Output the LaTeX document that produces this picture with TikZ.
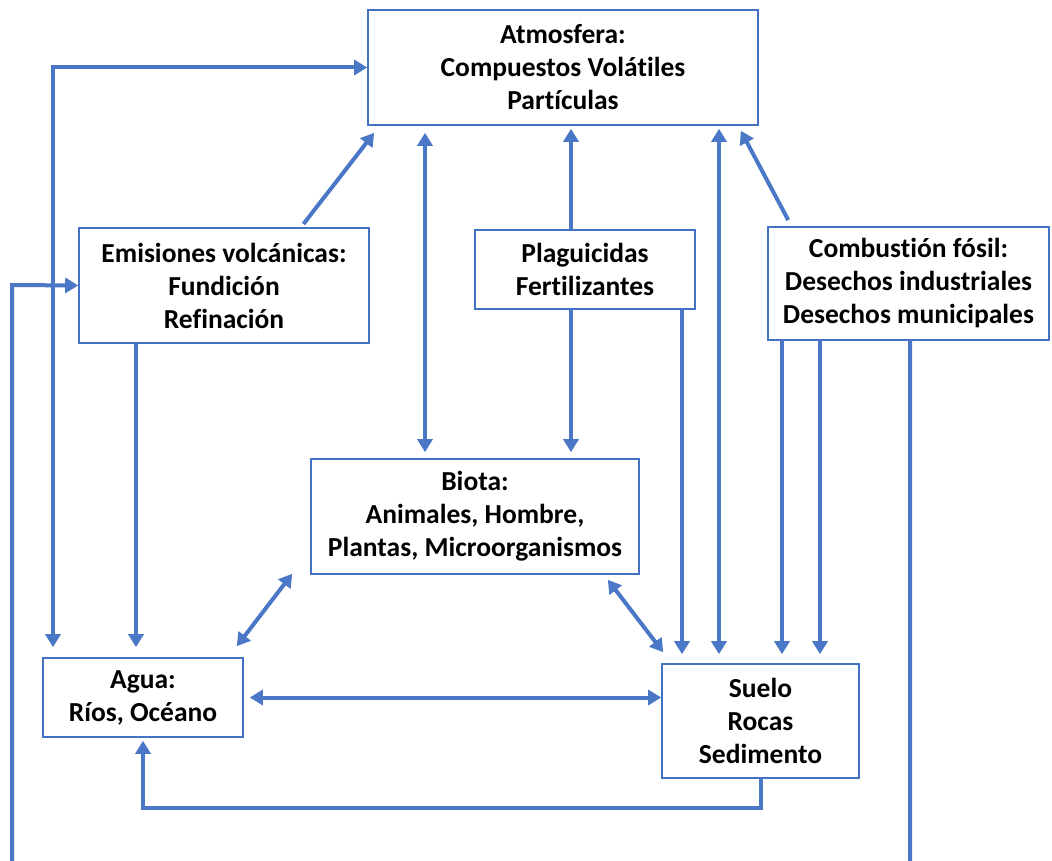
\documentclass[tikz,border=0pt]{standalone}
\usepackage{fontspec}
\setmainfont[Ligatures=NoCommon]{Carlito}
\usepackage{tikz}
\usetikzlibrary{
  arrows.meta,
  positioning,
  calc
}
\definecolor{boxblue}{HTML}{4472C4}
\definecolor{arrblue}{HTML}{4A78C6}

\begin{document}
\begin{tikzpicture}[
  x=1pt, y=-1pt,
  box/.style={draw=boxblue, line width=1.6pt, inner sep=0pt, align=center,
    font=\fontsize{27.5}{33}\selectfont\bfseries},
  arr/.style={draw=arrblue, line width=4pt, -{Triangle[length=13pt,width=15pt]}},
  dbl/.style={draw=arrblue, line width=4pt,
    {Triangle[length=13pt,width=15pt]}-{Triangle[length=13pt,width=15pt]}},
]
  \useasboundingbox (0,0) rectangle (1052,861);
  \clip (0,0) rectangle (1052,861);

  % Compartments
  \node[box, minimum width=390pt, minimum height=115pt] (atm) at (563,67.5)
    {Atmosfera:\\Compuestos Volátiles\\Partículas};
  \node[box, minimum width=290pt, minimum height=115pt] (emis) at (224,285.5)
    {Emisiones volcánicas:\\Fundición\\Refinación};
  \node[box, minimum width=220pt, minimum height=79pt] (plag) at (585,269.5)
    {Plaguicidas\\Fertilizantes};
  \node[box, minimum width=281pt, minimum height=113pt] (comb) at (908.5,283.5)
    {Combustión fósil:\\Desechos industriales\\Desechos municipales};
  \node[box, minimum width=328pt, minimum height=115pt] (biota) at (475,516.5)
    {Biota:\\Animales, Hombre,\\Plantas, Microorganismos};
  \node[box, minimum width=200pt, minimum height=79pt] (agua) at (143,697.5)
    {Agua:\\Ríos, Océano};
  \node[box, minimum width=197pt, minimum height=114pt] (suelo) at (760.5,721)
    {Suelo\\Rocas\\Sedimento};

  % Long loops round the outside
  \draw[dbl, shorten >=10pt] (atm.west) -| (agua.north -| 53,0);
  \draw[arr] (comb.south -| 910,0) -- (910,900) -| (12,285) -- (emis.west);

  % Into the atmosphere
  \draw[arr, shorten <=4pt] ([xshift=77pt]emis.north)
    -- ([xshift=7pt,yshift=-7pt]atm.south west);
  \draw[arr, shorten >=3pt] (plag.north -| 571,0) -- (atm.south -| 571,0);
  \draw[arr, shorten <=7pt] ([xshift=-117pt]comb.north)
    -- ([xshift=-18pt,yshift=-5pt]atm.south east);
  \draw[dbl, shorten <=7pt, shorten >=6pt] (atm.south -| 425,0) -- (biota.north -| 425,0);
  \draw[dbl, shorten <=3pt, shorten >=9pt] (atm.south -| 719,0) -- (suelo.north -| 719,0);

  % Downward sources
  \draw[arr, shorten >=10pt] (emis.south -| 136,0) -- (agua.north -| 136,0);
  \draw[arr, shorten >=6pt] (plag.south -| 571,0) -- (biota.north -| 571,0);
  \draw[arr, shorten >=9pt] (plag.south -| 682,0) -- (suelo.north -| 682,0);
  \draw[arr, shorten >=9pt] (comb.south -| 782,0) -- (suelo.north -| 782,0);
  \draw[arr, shorten >=9pt] (comb.south -| 820,0) -- (suelo.north -| 820,0);

  % Exchanges at the bottom
  \draw[dbl] ([xshift=-7pt,yshift=11pt]agua.north east)
    -- ([xshift=-18pt,yshift=1pt]biota.south west);
  \draw[dbl] ([xshift=-32pt,yshift=-5pt]biota.south east)
    -- ([xshift=2pt,yshift=11pt]suelo.north west);
  \draw[dbl, shorten <=6pt] (agua.east) -- (suelo.west |- agua.east);
  \draw[arr, shorten >=3pt] (suelo.south) -- ++(0,29) -| (agua.south);
\end{tikzpicture}
\end{document}
